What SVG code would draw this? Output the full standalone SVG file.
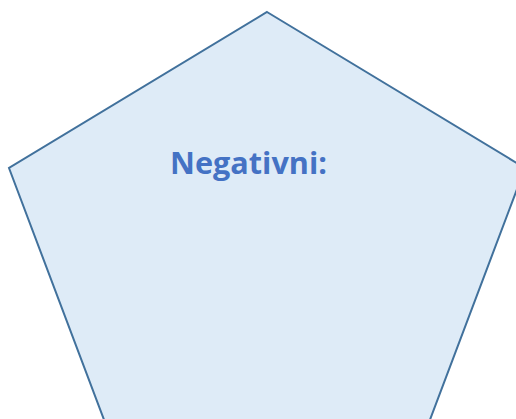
<svg xmlns="http://www.w3.org/2000/svg" width="516" height="419" viewBox="0 0 516 419">
<style>
.shape{fill:#DEEBF7;stroke:#41719C;stroke-width:2}
.lbl{font-family:"Open Sans","Liberation Sans",sans-serif;font-weight:bold;font-size:31px;fill:#4472C4}
</style>
<rect width="516" height="419" fill="#FFFFFF"/>
<g id="pentagon">
<polygon class="shape" points="267,12 525,168 428,425 106,425 9,168"/>
<text class="lbl" x="170" y="174" textLength="157" lengthAdjust="spacingAndGlyphs">Negativni:</text>
</g>
<g id="connectors"/>
</svg>
